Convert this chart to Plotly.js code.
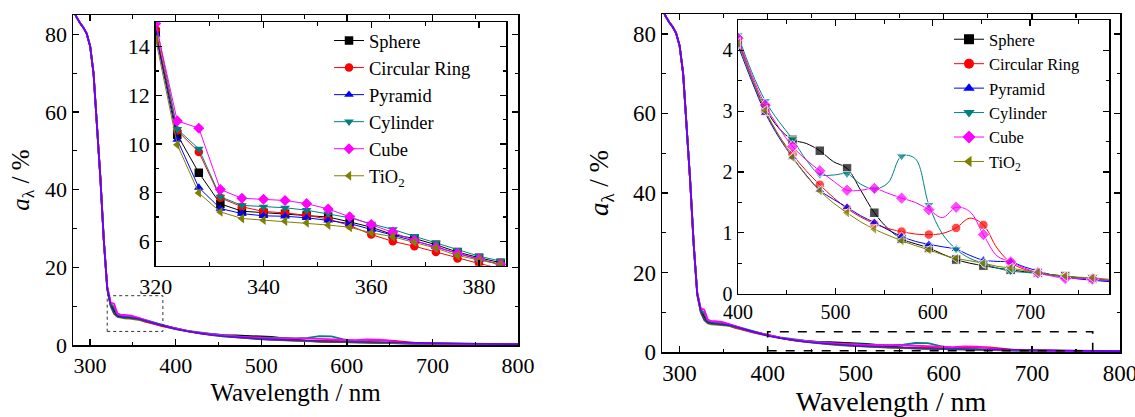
<!DOCTYPE html>
<html>
<head>
<meta charset="utf-8">
<script src="https://cdn.plot.ly/plotly-3.0.1.min.js"></script>
<style>
  html, body { margin: 0; padding: 0; background: #fff; }
  #chart { width: 1135px; height: 417px; }
</style>
</head>
<body>
<div id="chart"></div>
<script>
// ---------------- DATA ----------------
const seriesNames = ['Sphere', 'Circular Ring', 'Pyramid', 'Cylinder', 'Cube', 'TiO<sub>2</sub>'];

// Deep-UV part (identical for all shapes)
const uvWavelength = [280, 284, 288, 292, 296, 300, 304, 308, 312, 316];
const uvAbsorptance = [86.5, 84.5, 83.0, 81.8, 80.2, 77.0, 70.0, 57.0, 43.0, 27.0];

// Near-UV part (left inset), every 4 nm
const nearUvWavelength = [320, 324, 328, 332, 336, 340, 344, 348, 352, 356, 360, 364, 368, 372, 376, 380, 384];
const sphereNearUv   = [14.6, 10.38, 8.82, 7.54, 7.24, 7.18, 7.13, 7.06, 7.00, 6.80, 6.58, 6.28, 6.12, 5.86, 5.56, 5.33, 5.12];
const ringNearUv     = [14.7, 10.55, 9.67, 7.79, 7.42, 7.23, 7.17, 7.07, 6.92, 6.65, 6.28, 6.00, 5.80, 5.56, 5.30, 5.09, 4.88];
const pyramidNearUv  = [14.5, 10.18, 8.21, 7.35, 7.14, 7.05, 7.03, 6.97, 6.86, 6.73, 6.49, 6.25, 6.03, 5.78, 5.50, 5.26, 5.04];
const cylinderNearUv = [15.0, 10.61, 9.80, 7.83, 7.48, 7.42, 7.38, 7.28, 7.14, 6.97, 6.72, 6.49, 6.21, 5.94, 5.64, 5.39, 5.19];
const cubeNearUv     = [14.95, 10.95, 10.65, 8.13, 7.77, 7.73, 7.68, 7.55, 7.33, 7.01, 6.69, 6.38, 6.04, 5.76, 5.50, 5.27, 5.06];
const tio2NearUv     = [14.3, 9.97, 7.99, 7.21, 6.94, 6.87, 6.83, 6.76, 6.67, 6.58, 6.35, 6.19, 5.97, 5.72, 5.42, 5.22, 5.05];

// Visible part (right inset), every 14 nm
const visWavelength = [400, 414, 428, 442, 456, 470, 484, 498, 512, 526, 540, 554, 568, 582, 596, 610, 624, 638, 652, 666, 680, 694, 708, 722, 736, 750, 764, 778, 792, 806];
const sphereVis   = [4.17, 3.55, 3.05, 2.72, 2.53, 2.47, 2.35, 2.17, 2.06, 1.70, 1.33, 1.07, 0.90, 0.82, 0.75, 0.65, 0.56, 0.50, 0.46, 0.42, 0.39, 0.36, 0.34, 0.31, 0.29, 0.26, 0.24, 0.22, 0.19, 0.17];
const ringVis     = [4.15, 3.55, 3.00, 2.60, 2.29, 2.02, 1.79, 1.58, 1.40, 1.26, 1.15, 1.07, 1.02, 0.98, 0.97, 0.99, 1.08, 1.24, 1.13, 0.75, 0.51, 0.40, 0.34, 0.31, 0.28, 0.26, 0.24, 0.22, 0.20, 0.18];
const pyramidVis  = [4.08, 3.50, 2.97, 2.57, 2.24, 1.95, 1.70, 1.55, 1.42, 1.28, 1.17, 1.05, 0.94, 0.86, 0.81, 0.77, 0.73, 0.63, 0.55, 0.53, 0.52, 0.44, 0.37, 0.31, 0.27, 0.24, 0.22, 0.20, 0.19, 0.17];
const cylinderVis = [4.25, 3.65, 3.17, 2.83, 2.54, 2.20, 1.96, 1.95, 1.97, 1.80, 1.72, 1.82, 2.26, 2.22, 1.46, 0.98, 0.73, 0.58, 0.50, 0.42, 0.37, 0.35, 0.33, 0.30, 0.28, 0.26, 0.24, 0.22, 0.20, 0.18];
const cubeVis     = [4.20, 3.60, 3.10, 2.73, 2.42, 2.20, 2.02, 1.85, 1.70, 1.70, 1.73, 1.65, 1.57, 1.50, 1.38, 1.25, 1.42, 1.35, 0.97, 0.62, 0.52, 0.42, 0.34, 0.29, 0.25, 0.25, 0.24, 0.22, 0.20, 0.18];
const tio2Vis     = [4.12, 3.55, 3.01, 2.60, 2.24, 1.94, 1.69, 1.49, 1.33, 1.18, 1.06, 0.96, 0.87, 0.79, 0.72, 0.64, 0.58, 0.54, 0.50, 0.45, 0.42, 0.38, 0.35, 0.31, 0.29, 0.27, 0.26, 0.24, 0.22, 0.20];

const xTitle = 'Wavelength / nm';
const yTitle = '<i>a</i><sub>λ</sub> / %';

// ---------------- STYLE / BUILD ----------------
const FONT = 'Liberation Serif';
const W = 1135, H = 417;
const dx = (a, b) => [a / W, b / W];
const dy = (top, bottom) => [1 - bottom / H, 1 - top / H];

const colors  = ['#000000', '#ff0000', '#0000ff', '#008080', '#ff00ff', '#808000'];
const symbols = ['square', 'circle', 'triangle-up', 'triangle-down', 'diamond', 'triangle-left'];
const nearUvSets = [sphereNearUv, ringNearUv, pyramidNearUv, cylinderNearUv, cubeNearUv, tio2NearUv];
const visSets    = [sphereVis, ringVis, pyramidVis, cylinderVis, cubeVis, tio2Vis];

const traces = [];
// main curves (both panels)
const mainOrder = [0, 1, 3, 5, 4, 2];
[['x', 'y'], ['x3', 'y3']].forEach(([xa, ya]) => {
  mainOrder.forEach(k => {
    traces.push({
      type: 'scatter', mode: 'lines', xaxis: xa, yaxis: ya, showlegend: false,
      x: uvWavelength.concat(nearUvWavelength, visWavelength),
      y: uvAbsorptance.concat(nearUvSets[k], visSets[k]),
      line: { color: colors[k], width: 1.8 },
      opacity: k === 2 ? 0.6 : 1,
      hoverinfo: 'skip'
    });
  });
});
// left inset
seriesNames.forEach((name, k) => {
  traces.push({
    type: 'scatter', mode: 'lines+markers', xaxis: 'x2', yaxis: 'y2',
    name: name, legend: 'legend',
    x: nearUvWavelength, y: nearUvSets[k],
    line: { color: colors[k], width: 1 },
    marker: { color: colors[k], symbol: symbols[k], size: 8.5 }
  });
});
// right inset (markers on every other sample)
seriesNames.forEach((name, k) => {
  traces.push({
    type: 'scatter', mode: 'lines+markers', xaxis: 'x4', yaxis: 'y4',
    name: name, showlegend: false,
    x: visWavelength, y: visSets[k],
    line: { color: colors[k], width: 1, shape: 'spline', smoothing: 1 },
    marker: { color: colors[k], symbol: symbols[k], size: visWavelength.map((w, i) => i % 2 === 0 ? 9.5 : 0) }
  });
});
// legend entries for right inset
seriesNames.forEach((name, k) => {
  traces.push({
    type: 'scatter', mode: 'lines+markers', xaxis: 'x4', yaxis: 'y4',
    name: name, legend: 'legend2',
    x: [null], y: [null],
    line: { color: colors[k], width: 1 },
    marker: { color: colors[k], symbol: symbols[k], size: 10 }
  });
});

function ax(extra, fontSize) {
  const base = {
    showline: true, linecolor: '#000', linewidth: 1.5, mirror: 'ticks',
    ticks: 'inside', ticklen: 6, tickwidth: 1.3, tickcolor: '#000',
    showgrid: false, zeroline: false, automargin: false, ticklabeloverflow: 'allow',
    tickfont: { family: FONT, size: fontSize, color: '#000' },
    minor: { ticks: 'inside', ticklen: 3.5, tickwidth: 1.1, tickcolor: '#000', showgrid: false }
  };
  const out = Object.assign(base, extra);
  if (extra.minorDtick) { out.minor.dtick = extra.minorDtick; delete out.minorDtick; }
  return out;
}

const layout = {
  width: W, height: H,
  margin: { l: 0, r: 0, t: 0, b: 0 },
  paper_bgcolor: '#fff', plot_bgcolor: '#fff',
  font: { family: FONT, color: '#000' },
  showlegend: true,
  xaxis: ax({ domain: dx(73, 518), anchor: 'y', range: [280, 800], tick0: 0, dtick: 100, minorDtick: 50,
    title: { text: xTitle, font: { family: FONT, size: 25, color: '#000' }, standoff: 6 } }, 22),
  yaxis: ax({ domain: dy(15, 345), anchor: 'x', range: [0, 85], tick0: 0, dtick: 20, minorDtick: 10,
    title: { text: yTitle, font: { family: FONT, size: 25, color: '#000' }, standoff: 8 } }, 22),
  xaxis2: ax({ domain: dx(155.7, 506), anchor: 'y2', range: [320, 385], tick0: 0, dtick: 20, minorDtick: 10 }, 22),
  yaxis2: ax({ domain: dy(22.3, 265.7), anchor: 'x2', range: [5, 15], tick0: 0, dtick: 2, minorDtick: 1 }, 22),
  xaxis3: ax({ domain: dx(662, 1120), anchor: 'y3', range: [280, 800], tick0: 0, dtick: 100, minorDtick: 50,
    title: { text: xTitle, font: { family: FONT, size: 28, color: '#000' }, standoff: 9 } }, 23),
  yaxis3: ax({ domain: dy(14, 352), anchor: 'x3', range: [0, 85], tick0: 0, dtick: 20, minorDtick: 10,
    title: { text: yTitle, font: { family: FONT, size: 27, color: '#000' }, standoff: 16 } }, 23),
  xaxis4: ax({ domain: dx(738, 1109), anchor: 'y4', range: [400, 781], tick0: 0, dtick: 100, minorDtick: 50 }, 20),
  yaxis4: ax({ domain: dy(20, 293.6), anchor: 'x4', range: [0, 4.5], tick0: 0, dtick: 1, minorDtick: 0.5 }, 20),
  legend: {
    x: 329 / W, y: 1 - 22 / H, xanchor: 'left', yanchor: 'top',
    bgcolor: 'rgba(0,0,0,0)', borderwidth: 0,
    font: { family: FONT, size: 18.5, color: '#000' }, tracegroupgap: 0
  },
  legend2: {
    x: 949 / W, y: 1 - 22 / H, xanchor: 'left', yanchor: 'top',
    bgcolor: 'rgba(0,0,0,0)', borderwidth: 0,
    font: { family: FONT, size: 16.5, color: '#000' }, tracegroupgap: 0
  },
  shapes: [
    { type: 'rect', xref: 'x', yref: 'y', x0: 320, x1: 385, y0: 3.5, y1: 12.7,
      line: { color: '#333', width: 1, dash: 'dot' } },
    { type: 'rect', xref: 'x3', yref: 'y3', x0: 400, x1: 769, y0: 0.3, y1: 5.1,
      line: { color: '#000', width: 1.6, dash: 'dash' } }
  ]
};

Plotly.newPlot('chart', traces, layout, { staticPlot: true, displayModeBar: false });
</script>
</body>
</html>
